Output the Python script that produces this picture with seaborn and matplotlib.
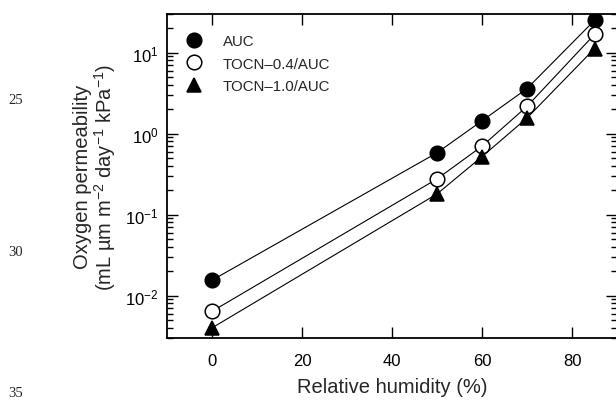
import numpy as np
import pandas as pd
import matplotlib
matplotlib.use("Agg")
import matplotlib.pyplot as plt
from matplotlib.lines import Line2D
from matplotlib.ticker import LogLocator, FixedLocator
import seaborn as sns

# Oxygen permeability vs relative humidity
rh = [0, 50, 60, 70, 85]
auc = [0.0155, 0.58, 1.44, 3.6, 25.0]
tocn04 = [0.0064, 0.276, 0.70, 2.17, 16.8]
tocn10 = [0.0040, 0.18, 0.52, 1.56, 11.2]
series_names = ["AUC", "TOCN\u20130.4/AUC", "TOCN\u20131.0/AUC"]
x_ticks = [0, 20, 40, 60, 80]

sns.set_theme(style="ticks")
plt.rcParams["font.family"] = ["Liberation Sans", "DejaVu Sans"]
plt.rcParams["mathtext.default"] = "regular"

df = pd.DataFrame({
    "rh": rh * 3,
    "perm": auc + tocn04 + tocn10,
    "film": sum([[n] * len(rh) for n in series_names], []),
})

fig = plt.figure(figsize=(6.16, 4.02), dpi=100)
ax = fig.add_axes([167 / 616, 63 / 402, 450 / 616, 324 / 402])

styles = {
    series_names[0]: dict(marker="o", markerfacecolor="black", markeredgecolor="black"),
    series_names[1]: dict(marker="o", markerfacecolor="white", markeredgecolor="black"),
    series_names[2]: dict(marker="^", markerfacecolor="black", markeredgecolor="black"),
}
for name in series_names:
    sub = df[df["film"] == name]
    sns.lineplot(data=sub, x="rh", y="perm", ax=ax, color="black", linewidth=0.8,
                 markersize=10.5, markeredgewidth=1.1, legend=False, **styles[name])

ax.set_yscale("log")
ax.set_xlim(-10, 90)
ax.set_ylim(0.003, 30)
ax.xaxis.set_major_locator(FixedLocator(x_ticks))
ax.yaxis.set_major_locator(LogLocator(base=10, numticks=10))
ax.yaxis.set_minor_locator(LogLocator(base=10, subs=np.arange(2, 10), numticks=10))

for s in ax.spines.values():
    s.set_linewidth(1.3)
    s.set_color("black")

ax.tick_params(which="both", direction="in", top=True, right=True, colors="black",
               labelsize=12, width=1.0)
ax.tick_params(which="major", length=8, pad=6)
ax.tick_params(which="minor", length=4.5)
ax.tick_params(axis="x", pad=11)

ax.set_xlabel("Relative humidity (%)", fontsize=14.5, labelpad=6)
ax.set_ylabel("Oxygen permeability\n(mL \u00b5m m$^{-2}$ day$^{-1}$ kPa$^{-1}$)",
              fontsize=14.5, labelpad=5, linespacing=1.0)

handles = [
    Line2D([], [], linestyle="none", color="black", markersize=10.5, markeredgewidth=1.1,
           **styles[n]) for n in series_names
]
ax.legend(handles, series_names, loc="upper left", bbox_to_anchor=(0.044, 0.937),
          frameon=False, fontsize=10.8, handlelength=1.0, handletextpad=1.4,
          borderpad=0, borderaxespad=0, labelspacing=0.55)

# manuscript line numbers in the margin
for label, ypix in [("25", 100), ("30", 253), ("35", 394)]:
    fig.text(16 / 616, 1 - ypix / 402, label, family="Liberation Serif", fontsize=10.5,
             ha="center", va="center")

fig.savefig("out.png", dpi=100)
